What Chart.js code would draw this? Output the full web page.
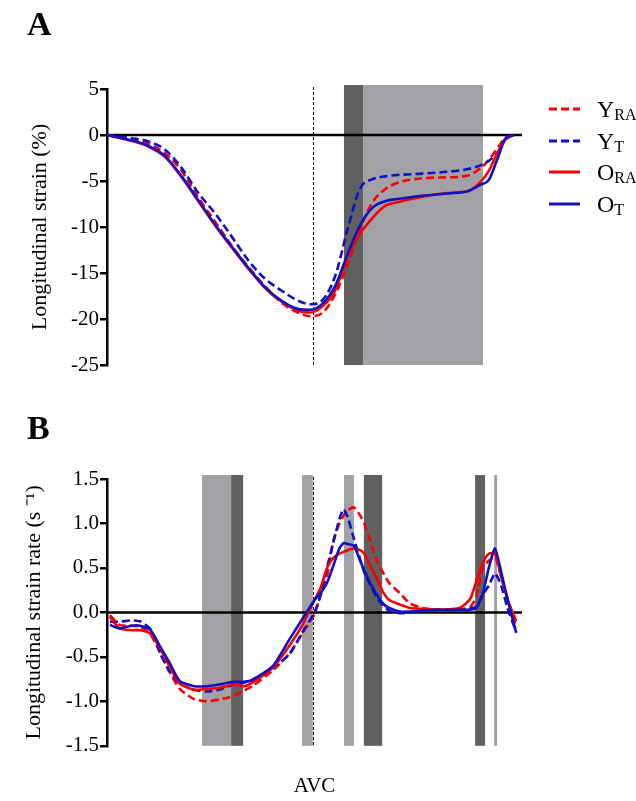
<!DOCTYPE html>
<html>
<head>
<meta charset="utf-8">
<script src="https://cdn.jsdelivr.net/npm/chart.js@4.4.1/dist/chart.umd.min.js"></script>
<style>
	body { margin: 0; background: #fff; }
	#wrap { position: relative; width: 636px; height: 801px; font-family: "Liberation Serif", "Times New Roman", serif; }
	canvas { position: absolute; left: 0; }
	.panel { position: absolute; left: 27px; font-size: 34px; font-weight: bold; line-height: 34px; }
	.leg { position: absolute; left: 0; top: 0; }
	.leg svg { position: absolute; left: 549px; }
	.leg span { position: absolute; left: 597px; font-size: 24px; line-height: 24px; white-space: nowrap; }
	.leg span b { font-weight: normal; font-size: 16px; position: relative; top: 3px; }
</style>
</head>
<body>
<div id="wrap">
	<canvas id="aChart" width="636" height="400" style="top:0"></canvas>
	<canvas id="bChart" width="636" height="401" style="top:400px"></canvas>
	<div class="panel" style="top:7px">A</div>
	<div class="panel" style="top:411px">B</div>
	<div class="leg" id="legend"></div>
</div>
<script>
// time axis, % of cycle
const tA = [0, 6, 10, 14, 18, 22, 26, 30, 34, 38, 42, 46, 49, 52, 55, 58, 61, 64, 67, 70, 76, 82, 87, 90, 92, 94, 96, 98];
const yRA_A = [0, -0.5, -1.0, -2.0, -3.9, -6.8, -9.4, -12.0, -14.3, -16.4, -18.2, -19.3, -19.7, -19.3, -17.3, -14.0, -10.2, -7.3, -5.9, -5.2, -4.7, -4.6, -4.4, -3.6, -2.7, -1.5, -0.3, 0];
const yT_A = [0, -0.35, -0.7, -1.6, -3.6, -6.3, -8.5, -11.0, -13.6, -15.6, -16.9, -18.0, -18.4, -17.9, -15.3, -10.2, -5.8, -4.8, -4.5, -4.35, -4.2, -4.0, -3.7, -3.3, -2.8, -2.0, -0.4, 0];
const oRA_A = [0, -0.65, -1.25, -2.4, -4.6, -7.2, -9.8, -12.2, -14.5, -16.6, -18.1, -19.1, -19.3, -18.6, -16.9, -13.1, -10.7, -9.0, -7.7, -7.3, -6.7, -6.3, -6.1, -5.1, -3.9, -2.0, -0.5, 0];
const oT_A = [0, -0.6, -1.2, -2.3, -4.5, -7.1, -9.7, -12.1, -14.4, -16.5, -18.0, -18.9, -19.0, -18.3, -16.4, -12.9, -9.8, -7.9, -7.2, -6.95, -6.6, -6.35, -6.1, -5.4, -4.9, -2.7, -0.4, 0];

const tB = [0.7, 3, 6, 8, 10.5, 13, 15, 17.5, 21, 24, 27, 30.5, 33, 35, 40, 44, 47, 50, 51.5, 53, 54.5, 56, 57, 58, 59.5, 61, 62, 63.5, 65, 66.5, 68, 70.5, 73, 76, 80, 85, 87.5, 89, 90.5, 92, 93.5, 95, 96.5, 98.6];
const yRA_B = [-0.03, -0.14, -0.15, -0.16, -0.25, -0.47, -0.66, -0.86, -0.975, -1.0, -0.98, -0.94, -0.88, -0.83, -0.65, -0.46, -0.24, -0.02, 0.2, 0.4, 0.8, 1.0, 1.09, 1.15, 1.18, 1.09, 1.0, 0.8, 0.58, 0.45, 0.33, 0.22, 0.1, 0.05, 0.03, 0.03, 0.06, 0.18, 0.5, 0.58, 0.62, 0.4, 0.16, -0.17];
const yT_B = [-0.105, -0.105, -0.09, -0.1, -0.19, -0.48, -0.66, -0.8, -0.87, -0.89, -0.87, -0.81, -0.79, -0.76, -0.62, -0.47, -0.23, 0.0, 0.2, 0.5, 0.78, 1.05, 1.16, 1.07, 0.83, 0.6, 0.45, 0.3, 0.17, 0.08, 0.02, -0.01, 0.0, 0.02, 0.03, 0.03, 0.04, 0.07, 0.2, 0.3, 0.44, 0.3, 0.05, -0.22];
const oRA_B = [-0.05, -0.18, -0.2, -0.2, -0.24, -0.42, -0.6, -0.8, -0.87, -0.86, -0.85, -0.81, -0.83, -0.79, -0.62, -0.37, -0.15, 0.14, 0.28, 0.5, 0.61, 0.66, 0.68, 0.70, 0.72, 0.70, 0.66, 0.52, 0.38, 0.23, 0.14, 0.09, 0.05, 0.04, 0.03, 0.05, 0.15, 0.35, 0.55, 0.66, 0.66, 0.4, 0.15, -0.1];
const oT_B = [-0.14, -0.18, -0.15, -0.15, -0.2, -0.4, -0.56, -0.77, -0.83, -0.83, -0.81, -0.78, -0.78, -0.76, -0.6, -0.3, -0.08, 0.14, 0.22, 0.33, 0.52, 0.72, 0.78, 0.77, 0.75, 0.58, 0.47, 0.32, 0.2, 0.1, 0.05, 0.01, 0.01, 0.02, 0.03, 0.03, 0.03, 0.05, 0.2, 0.5, 0.72, 0.45, 0.15, -0.23];

// shaded phases [start, end] and aortic valve closure
const phasesA = [[57.1, 61.7], [61.7, 90.6]];
const phasesB = [[22.9, 29.9], [29.9, 32.8], [47.0, 49.6], [57.1, 59.5], [61.9, 66.3], [88.7, 91.1], [93.3, 94.0]];
const avc = 49.6;

const seriesNames = ["YRA", "YT", "ORA", "OT"];

const RED = "rgb(250, 0, 0)";
const BLUE = "rgb(16, 16, 196)";
const LIGHT = "#a2a2a6";
const DARK = "#606060";
const FONT = "'Liberation Serif', 'Times New Roman', serif";

const phasePlugin = {
	id: "phases",
	beforeDatasetsDraw(chart, args, opts) {
		const { ctx, chartArea, scales } = chart;
		const x = scales.x, y = scales.y;
		ctx.save();
		opts.phases.forEach((p, i) => {
			const x0 = x.getPixelForValue(p[0]);
			const x1 = x.getPixelForValue(p[1]);
			ctx.fillStyle = opts.colors[i];
			ctx.fillRect(x0, chartArea.top - 4, x1 - x0, chartArea.bottom - chartArea.top + 4);
		});
		const y0 = y.getPixelForValue(0);
		ctx.strokeStyle = "#000";
		ctx.lineWidth = 2.5;
		ctx.beginPath();
		ctx.moveTo(chartArea.left, y0);
		ctx.lineTo(chartArea.right, y0);
		ctx.stroke();
		const xa = Math.round(x.getPixelForValue(opts.avc)) + 0.5;
		ctx.lineWidth = 1;
		ctx.setLineDash([3, 2]);
		ctx.beginPath();
		ctx.moveTo(xa, chartArea.top - 2);
		ctx.lineTo(xa, chartArea.bottom);
		ctx.stroke();
		ctx.restore();
	},
};

function pts(t, v) {
	return t.map((x, i) => ({ x: x, y: v[i] }));
}

function makeSets(t, yRA, yT, oRA, oT) {
	// first in list is drawn on top
	return [
		{ label: "OT", data: pts(t, oT), borderColor: BLUE },
		{ label: "ORA", data: pts(t, oRA), borderColor: RED },
		{ label: "YT", data: pts(t, yT), borderColor: BLUE, borderDash: [8, 4] },
		{ label: "YRA", data: pts(t, yRA), borderColor: RED, borderDash: [8, 4] },
	];
}

function yAxis(min, max, step, title, width, fmt) {
	return {
		min: min,
		max: max,
		afterFit: (s) => { s.width = width; },
		ticks: { stepSize: step, color: "#000", padding: 1, font: { family: FONT, size: 21 }, callback: fmt },
		grid: { drawOnChartArea: false, drawTicks: true, tickLength: 7, color: "#000", lineWidth: 2.5 },
		border: { display: true, color: "#000", width: 2.5 },
		title: { display: true, text: title, color: "#000", font: { family: FONT, size: 22 }, padding: 4 },
	};
}

const common = {
	responsive: false,
	animation: false,
	elements: {
		point: { radius: 0 },
		line: { borderWidth: 2.6, fill: false },
	},
	plugins: { legend: { display: false }, tooltip: { enabled: false } },
};

new Chart(document.getElementById("aChart"), {
	type: "line",
	data: { datasets: makeSets(tA, yRA_A, yT_A, oRA_A, oT_A) },
	options: Object.assign({}, common, {
		elements: { point: { radius: 0 }, line: { borderWidth: 2.6, fill: false, cubicInterpolationMode: "monotone" } },
		layout: { padding: { left: 23, right: 114, top: 89, bottom: 35 } },
		scales: {
			x: { type: "linear", min: 0, max: 100, display: false },
			y: yAxis(-25, 5, 5, "Longitudinal strain (%)", 84, (v) => v),
		},
		plugins: {
			legend: { display: false },
			tooltip: { enabled: false },
			phases: { phases: phasesA, colors: [DARK, LIGHT], avc: avc },
		},
	}),
	plugins: [phasePlugin],
});

new Chart(document.getElementById("bChart"), {
	type: "line",
	data: { datasets: makeSets(tB, yRA_B, yT_B, oRA_B, oT_B) },
	options: Object.assign({}, common, {
		elements: { point: { radius: 0 }, line: { borderWidth: 2.6, fill: false, tension: 0.2 } },
		layout: { padding: { left: 17, right: 114, top: 79, bottom: 2 } },
		scales: {
			x: {
				type: "linear", min: 0, max: 100,
				ticks: { display: false },
				grid: { display: false },
				border: { display: false },
				title: { display: true, text: "AVC", color: "#000", font: { family: FONT, size: 21 }, padding: { top: 20, bottom: 0 } },
			},
			y: yAxis(-1.5, 1.5, 0.5, "Longitudinal strain rate (s \u207B\u00B9)", 90, (v) => v.toFixed(1)),
		},
		plugins: {
			legend: { display: false },
			tooltip: { enabled: false },
			phases: { phases: phasesB, colors: [LIGHT, DARK, LIGHT, LIGHT, DARK, DARK, LIGHT], avc: avc },
		},
	}),
	plugins: [phasePlugin],
});

// legend with subscripts
const legRows = [
	{ main: "Y", sub: "RA", color: RED, dash: "8 4" },
	{ main: "Y", sub: "T", color: BLUE, dash: "8 4" },
	{ main: "O", sub: "RA", color: RED, dash: "" },
	{ main: "O", sub: "T", color: BLUE, dash: "" },
];
const legY = [109, 141, 172, 204];
const leg = document.getElementById("legend");
legRows.forEach((r, i) => {
	const y = legY[i];
	leg.insertAdjacentHTML("beforeend",
		'<svg width="32" height="6" style="top:' + (y - 3) + 'px"><line x1="0" y1="3" x2="31" y2="3" stroke="' + r.color +
		'" stroke-width="3" stroke-dasharray="' + r.dash + '"/></svg>' +
		'<span style="top:' + (y - 12) + 'px">' + r.main + "<b>" + r.sub + "</b></span>");
});
</script>
</body>
</html>
